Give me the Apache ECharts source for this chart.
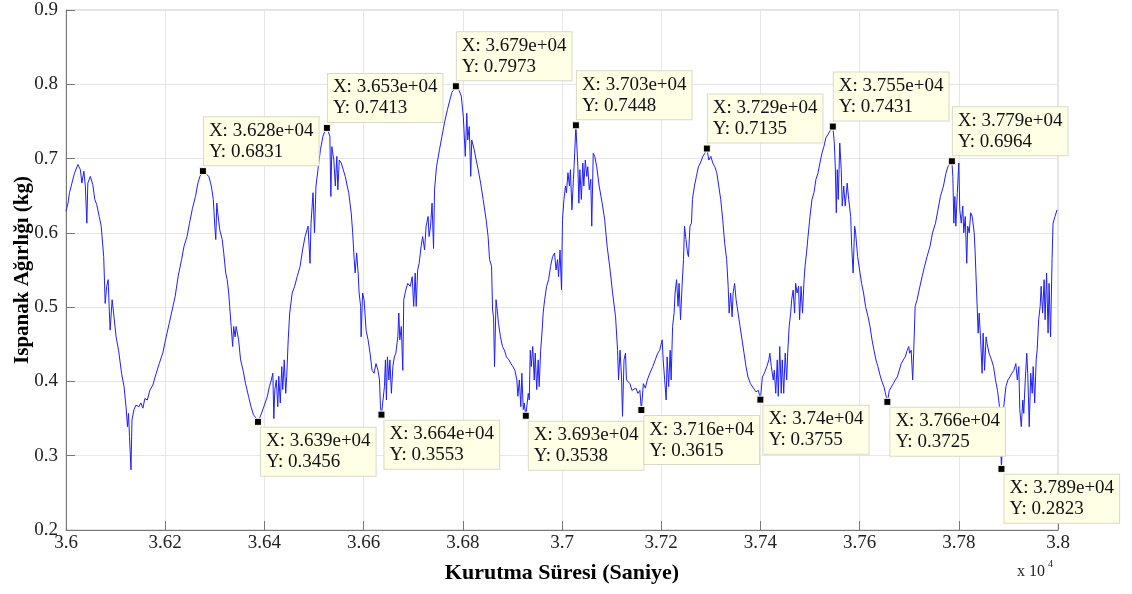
<!DOCTYPE html>
<html>
<head>
<meta charset="utf-8">
<script src="https://cdn.jsdelivr.net/npm/echarts@6/dist/echarts.min.js"></script>
<style>
  html, body { margin: 0; padding: 0; background: #fff; }
  #chart { width: 1132px; height: 594px; }
</style>
</head>
<body>
<div id="chart"></div>
<script>
// [time (s), weight (kg)]
const weightSamples = [
  [36000,0.629],[36004,0.640],[36007,0.654],[36012,0.667],[36017,0.680],[36024,0.692],[36029,0.685],[36032,0.667],
  [36036,0.683],[36039,0.663],[36042,0.613],[36044,0.667],[36049,0.676],[36054,0.665],[36058,0.645],[36062,0.638],
  [36067,0.622],[36071,0.609],[36076,0.568],[36079,0.505],[36082,0.528],[36085,0.537],[36087,0.501],[36089,0.469],
  [36093,0.510],[36096,0.492],[36101,0.460],[36106,0.442],[36112,0.411],[36117,0.393],[36121,0.366],[36124,0.339],
  [36126,0.357],[36128,0.326],[36131,0.281],[36133,0.348],[36137,0.362],[36141,0.368],[36147,0.366],[36151,0.371],
  [36155,0.364],[36159,0.377],[36164,0.375],[36169,0.388],[36175,0.395],[36181,0.409],[36188,0.424],[36195,0.438],
  [36202,0.460],[36208,0.478],[36215,0.499],[36220,0.514],[36226,0.541],[36233,0.564],[36238,0.582],[36244,0.595],
  [36249,0.613],[36255,0.633],[36261,0.649],[36266,0.667],[36270,0.676],[36276,0.6831],
  [36288,0.676],[36293,0.663],[36297,0.645],[36300,0.609],[36302,0.591],[36304,0.640],[36306,0.627],[36310,0.604],
  [36315,0.591],[36318,0.573],[36322,0.546],[36325,0.537],[36328,0.519],[36330,0.501],[36333,0.474],[36336,0.447],
  [36338,0.474],[36341,0.460],[36343,0.474],[36348,0.456],[36352,0.429],[36357,0.415],[36362,0.397],[36368,0.380],
  [36373,0.366],[36378,0.355],[36384,0.350],[36387,0.3456],[36393,0.355],[36396,0.357],[36400,0.368],[36406,0.380],
  [36410,0.393],[36414,0.402],[36417,0.411],[36419,0.350],[36421,0.389],[36424,0.402],[36427,0.366],[36429,0.407],
  [36432,0.371],[36435,0.420],[36437,0.389],[36440,0.429],[36443,0.384],[36445,0.407],[36448,0.456],[36451,0.492],
  [36456,0.519],[36461,0.528],[36466,0.541],[36472,0.555],[36477,0.577],[36482,0.595],[36488,0.609],[36492,0.559],
  [36494,0.613],[36498,0.654],[36501,0.600],[36504,0.663],[36508,0.685],[36513,0.712],[36518,0.730],[36522,0.737],
  [36526,0.7413],[36532,0.730],[36534,0.649],[36536,0.716],[36540,0.698],[36543,0.663],[36546,0.703],[36548,0.658],
  [36551,0.698],[36555,0.694],[36559,0.685],[36563,0.676],[36567,0.663],[36570,0.654],[36575,0.627],[36578,0.600],
  [36581,0.564],[36583,0.546],[36586,0.573],[36589,0.546],[36591,0.519],[36594,0.501],[36595,0.460],[36598,0.519],
  [36601,0.510],[36605,0.469],[36609,0.456],[36613,0.438],[36617,0.415],[36621,0.411],[36625,0.424],[36629,0.415],
  [36632,0.402],[36634,0.366],[36636,0.3553],[36642,0.393],[36644,0.429],[36646,0.375],[36648,0.433],[36651,0.402],
  [36653,0.429],[36656,0.384],[36659,0.420],[36662,0.433],[36665,0.438],[36669,0.460],[36671,0.492],[36673,0.456],
  [36676,0.474],[36679,0.415],[36681,0.510],[36685,0.523],[36689,0.532],[36694,0.528],[36698,0.541],[36701,0.501],
  [36704,0.546],[36706,0.501],[36709,0.550],[36712,0.559],[36716,0.582],[36719,0.595],[36723,0.577],[36726,0.609],
  [36730,0.622],[36732,0.595],[36735,0.609],[36738,0.640],[36741,0.579],[36743,0.658],[36747,0.689],[36753,0.712],
  [36758,0.730],[36763,0.748],[36769,0.766],[36774,0.779],[36778,0.789],[36782,0.793],[36786,0.7973],[36790,0.794],
  [36793,0.791],[36797,0.784],[36801,0.757],[36805,0.703],[36808,0.761],[36810,0.725],[36813,0.743],[36816,0.676],
  [36818,0.725],[36823,0.712],[36827,0.698],[36831,0.685],[36836,0.667],[36841,0.645],[36847,0.618],[36851,0.595],
  [36854,0.564],[36858,0.555],[36860,0.496],[36862,0.487],[36864,0.420],[36867,0.510],[36870,0.492],[36872,0.478],
  [36876,0.460],[36880,0.447],[36884,0.442],[36888,0.433],[36893,0.429],[36897,0.424],[36901,0.420],[36905,0.415],
  [36909,0.402],[36911,0.380],[36914,0.402],[36917,0.366],[36919,0.411],[36922,0.362],[36924,0.371],[36927,0.3538],
  [36932,0.384],[36934,0.375],[36936,0.442],[36938,0.420],[36941,0.447],[36944,0.402],[36946,0.438],[36949,0.389],
  [36952,0.429],[36954,0.393],[36957,0.442],[36960,0.469],[36962,0.492],[36965,0.510],[36969,0.528],[36973,0.537],
  [36977,0.555],[36981,0.568],[36985,0.573],[36988,0.550],[36991,0.564],[36993,0.541],[36996,0.577],[36999,0.523],
  [37001,0.618],[37004,0.645],[37007,0.663],[37009,0.654],[37012,0.681],[37015,0.663],[37017,0.685],[37020,0.631],
  [37023,0.672],[37025,0.698],[37028,0.7448],[37032,0.689],[37034,0.640],[37036,0.685],[37039,0.645],[37042,0.694],
  [37044,0.663],[37047,0.698],[37050,0.676],[37052,0.689],[37055,0.658],[37058,0.672],[37060,0.609],[37063,0.707],
  [37066,0.703],[37070,0.689],[37075,0.663],[37081,0.640],[37086,0.618],[37091,0.582],[37097,0.550],[37102,0.519],
  [37108,0.487],[37112,0.442],[37114,0.402],[37117,0.442],[37120,0.406],[37122,0.353],[37125,0.429],[37128,0.438],
  [37130,0.402],[37133,0.402],[37137,0.397],[37141,0.388],[37145,0.386],[37149,0.391],[37153,0.384],[37157,0.388],
  [37160,0.3615],[37164,0.397],[37168,0.391],[37172,0.402],[37177,0.411],[37183,0.420],[37188,0.429],[37193,0.438],
  [37197,0.442],[37202,0.456],[37204,0.429],[37207,0.402],[37210,0.375],[37212,0.433],[37215,0.393],[37218,0.442],
  [37220,0.402],[37223,0.474],[37226,0.492],[37228,0.519],[37231,0.537],[37234,0.501],[37236,0.532],[37239,0.483],
  [37242,0.528],[37245,0.564],[37247,0.609],[37250,0.591],[37253,0.573],[37255,0.568],[37258,0.609],[37261,0.613],
  [37263,0.645],[37267,0.663],[37271,0.676],[37275,0.689],[37279,0.694],[37284,0.703],[37288,0.707],[37292,0.7135],
  [37296,0.698],[37300,0.703],[37304,0.694],[37308,0.689],[37312,0.681],[37316,0.663],[37320,0.645],[37324,0.618],
  [37328,0.586],[37332,0.564],[37335,0.528],[37337,0.492],[37340,0.519],[37343,0.487],[37345,0.519],[37348,0.532],
  [37351,0.510],[37355,0.492],[37359,0.474],[37363,0.456],[37367,0.438],[37371,0.420],[37375,0.406],[37380,0.397],
  [37386,0.391],[37391,0.386],[37396,0.388],[37400,0.3755],[37404,0.406],[37408,0.411],[37413,0.420],[37417,0.429],
  [37419,0.438],[37422,0.420],[37426,0.402],[37428,0.415],[37431,0.384],[37434,0.429],[37436,0.380],[37439,0.447],
  [37442,0.384],[37444,0.429],[37447,0.384],[37450,0.438],[37453,0.402],[37455,0.438],[37458,0.474],[37461,0.492],
  [37463,0.510],[37466,0.523],[37469,0.492],[37471,0.532],[37474,0.519],[37477,0.528],[37479,0.483],[37482,0.528],
  [37485,0.492],[37488,0.537],[37490,0.555],[37493,0.573],[37496,0.595],[37500,0.622],[37504,0.645],[37508,0.654],
  [37512,0.672],[37516,0.680],[37520,0.694],[37524,0.707],[37528,0.716],[37532,0.728],[37536,0.732],[37540,0.737],
  [37543,0.740],[37546,0.7431],[37549,0.721],[37551,0.689],[37553,0.627],[37555,0.685],[37557,0.645],[37560,0.721],
  [37563,0.685],[37565,0.636],[37568,0.663],[37571,0.636],[37575,0.667],[37578,0.645],[37582,0.622],[37584,0.582],
  [37587,0.546],[37590,0.609],[37592,0.600],[37596,0.568],[37600,0.550],[37604,0.532],[37608,0.519],[37612,0.501],
  [37617,0.487],[37621,0.474],[37625,0.456],[37629,0.442],[37633,0.429],[37637,0.420],[37641,0.409],[37645,0.400],
  [37649,0.393],[37653,0.395],[37656,0.3725],[37660,0.388],[37664,0.388],[37668,0.397],[37672,0.402],[37676,0.406],
  [37680,0.415],[37684,0.424],[37688,0.429],[37692,0.433],[37696,0.442],[37699,0.447],[37701,0.438],[37704,0.442],
  [37707,0.402],[37709,0.438],[37712,0.501],[37716,0.510],[37720,0.523],[37726,0.541],[37731,0.555],[37736,0.568],
  [37742,0.582],[37747,0.600],[37753,0.613],[37758,0.631],[37763,0.649],[37769,0.663],[37774,0.680],[37778,0.689],
  [37782,0.690],[37786,0.6964],[37788,0.676],[37790,0.613],[37792,0.649],[37794,0.609],[37797,0.654],[37800,0.694],
  [37802,0.631],[37805,0.613],[37808,0.636],[37810,0.600],[37813,0.622],[37816,0.559],[37818,0.609],[37821,0.600],
  [37824,0.627],[37827,0.622],[37831,0.600],[37833,0.573],[37836,0.519],[37839,0.465],[37841,0.492],[37844,0.456],
  [37847,0.411],[37849,0.465],[37852,0.415],[37855,0.460],[37857,0.451],[37861,0.438],[37866,0.429],[37870,0.420],
  [37874,0.402],[37878,0.388],[37882,0.366],[37884,0.321],[37886,0.2823],[37890,0.362],[37895,0.393],[37899,0.402],
  [37903,0.406],[37907,0.411],[37911,0.415],[37915,0.424],[37918,0.402],[37921,0.420],[37923,0.362],[37926,0.339],
  [37929,0.375],[37931,0.357],[37934,0.402],[37937,0.438],[37939,0.411],[37942,0.339],[37945,0.411],[37948,0.384],
  [37950,0.420],[37953,0.371],[37956,0.429],[37958,0.442],[37961,0.483],[37964,0.501],[37966,0.528],[37969,0.492],
  [37972,0.537],[37974,0.483],[37977,0.546],[37980,0.465],[37982,0.532],[37985,0.460],[37988,0.564],[37990,0.613],
  [37994,0.622],[37998,0.631]
];

// data tips (peaks and troughs)
const tipTime   = [36276, 36387, 36526, 36636, 36786, 36927, 37028, 37160, 37292, 37400, 37546, 37656, 37786, 37886];
const tipWeight = [0.6831, 0.3456, 0.7413, 0.3553, 0.7973, 0.3538, 0.7448, 0.3615, 0.7135, 0.3755, 0.7431, 0.3725, 0.6964, 0.2823];

const serif = '"Liberation Serif", "Times New Roman", serif';

const tipData = tipTime.map((t, i) => {
  const up = tipWeight[i] > 0.5;
  return {
    coord: [t, tipWeight[i]],
    label: {
      position: up ? [5, -2] : [7, 10],
      verticalAlign: up ? 'bottom' : 'top'
    }
  };
});

const chart = echarts.init(document.getElementById('chart'));
chart.setOption({
  animation: false,
  backgroundColor: '#fff',
  grid: {
    left: 66, right: 74, top: 10, bottom: 64,
    containLabel: false, outerBoundsMode: 'none',
    show: true, borderColor: '#c8c8c8', borderWidth: 1
  },
  xAxis: {
    type: 'value', min: 36000, max: 38000, interval: 200,
    name: 'Kurutma Süresi (Saniye)', nameLocation: 'middle', nameGap: 32,
    nameTextStyle: { fontFamily: serif, fontWeight: 'bold', fontSize: 22, color: '#000' },
    axisLine: { show: true, lineStyle: { color: '#777', width: 1 } },
    axisTick: { show: true, inside: true, length: 9, lineStyle: { color: '#777' } },
    axisLabel: {
      fontFamily: serif, fontSize: 19, color: '#222', margin: 4,
      formatter: v => String(Number((v / 1e4).toFixed(2)))
    },
    splitLine: { show: true, lineStyle: { color: '#e6e6e6', width: 1 } }
  },
  yAxis: {
    type: 'value', min: 0.2, max: 0.9, interval: 0.1,
    name: 'Ispanak Ağırlığı (kg)', nameLocation: 'middle', nameGap: 33,
    nameMoveOverlap: false,
    nameTextStyle: { fontFamily: serif, fontWeight: 'bold', fontSize: 21, color: '#000' },
    axisLine: { show: true, lineStyle: { color: '#777', width: 1 } },
    axisTick: { show: true, inside: true, length: 9, lineStyle: { color: '#777' } },
    axisLabel: {
      fontFamily: serif, fontSize: 19, color: '#222', margin: 8,
      formatter: v => String(Number(v.toFixed(1)))
    },
    splitLine: { show: true, lineStyle: { color: '#e6e6e6', width: 1 } }
  },
  graphic: [
    { type: 'text', left: 1017, top: 564, style: { text: 'x 10', font: '16px ' + serif, fill: '#222' } },
    { type: 'text', left: 1048, top: 559, style: { text: '4', font: '10px ' + serif, fill: '#222' } }
  ],
  series: [{
    type: 'line',
    data: weightSamples,
    showSymbol: false,
    sampling: 'none',
    lineStyle: { color: '#1f1fff', width: 1 },
    z: 3,
    markPoint: {
      symbol: 'rect',
      symbolSize: 7,
      itemStyle: { color: '#000', borderColor: '#ffffe1', borderWidth: 1 },
      label: {
        show: true,
        align: 'left',
        fontFamily: serif,
        fontSize: 19,
        lineHeight: 21,
        color: '#111',
        backgroundColor: '#ffffe6',
        borderColor: '#d9d9c8',
        borderWidth: 1,
        padding: [3, 5, 3, 5],
        formatter: p => 'X: ' + Number((p.data.coord[0] / 1e4).toPrecision(4)) + 'e+04\nY: ' + p.data.coord[1]
      },
      data: tipData
    }
  }]
});
</script>
</body>
</html>
